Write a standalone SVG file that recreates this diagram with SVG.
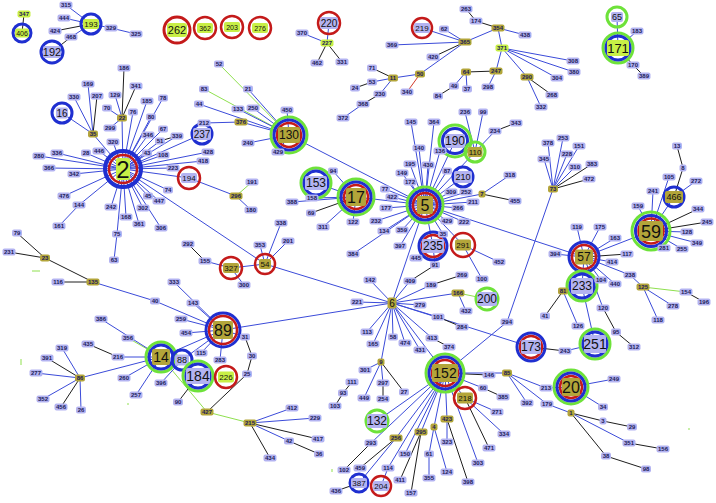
<svg xmlns="http://www.w3.org/2000/svg" xmlns:xlink="http://www.w3.org/1999/xlink" width="716" height="503" viewBox="0 0 716 503">
<style>
.e{stroke:#3b4bd9;stroke-width:1}
.k{stroke:#1e1e1e;stroke-width:1}
.g{stroke:#8fe04f;stroke-width:1}
.r{stroke:#d23a2a;stroke-width:1}
.L{fill:#b3b3f1}
.O{fill:#b3a53a}
.Y{fill:#c8ef46}
text{font-family:"Liberation Sans",Arial,sans-serif;text-anchor:middle}
.t{font-size:6px;font-weight:bold;fill:#1c1c58}
.B{fill:#111}
.cb{fill:none;stroke:#1f2fd0;stroke-width:3}
.cr{fill:none;stroke:#c41a1a;stroke-width:2.5}
.cg{fill:none;stroke:#6ee23a;stroke-width:3}
</style>
<defs>
<rect id="r3" x="-6.5" y="-3.5" width="13" height="7" rx="2"/>
<rect id="r2" x="-5" y="-3.5" width="10" height="7" rx="2"/>
<rect id="r1" x="-3.5" y="-3.5" width="7" height="7" rx="2"/>
</defs>
<rect width="716" height="503" fill="#ffffff"/>
<g id="edges">
<line class="k" x1="24" y1="14" x2="22" y2="33"/>
<line class="e" x1="66" y1="5" x2="91" y2="24"/>
<line class="e" x1="64" y1="18" x2="91" y2="24"/>
<line class="k" x1="55" y1="31" x2="91" y2="24"/>
<line class="k" x1="71" y1="37" x2="52" y2="52"/>
<line class="e" x1="71" y1="37" x2="91" y2="24"/>
<line class="e" x1="111" y1="28" x2="91" y2="24"/>
<line class="e" x1="111" y1="28" x2="136" y2="34"/>
<line class="e" x1="329" y1="23" x2="327" y2="43"/>
<line class="e" x1="302" y1="33" x2="327" y2="43"/>
<line class="k" x1="327" y1="43" x2="317" y2="63"/>
<line class="k" x1="327" y1="43" x2="342" y2="62"/>
<g class="e">
<line x1="123" y1="169" x2="49" y2="168"/>
<line x1="123" y1="169" x2="74" y2="174"/>
<line x1="123" y1="169" x2="64" y2="196"/>
<line x1="123" y1="169" x2="79" y2="205"/>
<line x1="123" y1="169" x2="111" y2="207"/>
<line x1="123" y1="169" x2="126" y2="217"/>
<line x1="123" y1="169" x2="117" y2="234"/>
<line x1="123" y1="169" x2="143" y2="208"/>
<line x1="123" y1="169" x2="139" y2="224"/>
<line x1="123" y1="169" x2="161" y2="228"/>
<line x1="123" y1="169" x2="148" y2="196"/>
<line x1="123" y1="169" x2="159" y2="201"/>
<line x1="123" y1="169" x2="168" y2="190"/>
<line x1="123" y1="169" x2="173" y2="168"/>
<line x1="123" y1="169" x2="163" y2="155"/>
<line x1="123" y1="169" x2="147" y2="153"/>
<line x1="123" y1="169" x2="160" y2="141"/>
<line x1="123" y1="169" x2="163" y2="129"/>
<line x1="123" y1="169" x2="151" y2="117"/>
<line x1="123" y1="169" x2="133" y2="112"/>
<line x1="123" y1="169" x2="147" y2="101"/>
<line x1="123" y1="169" x2="163" y2="98"/>
<line x1="123" y1="169" x2="177" y2="136"/>
<line x1="123" y1="169" x2="148" y2="135"/>
<line x1="123" y1="169" x2="113" y2="142"/>
<line x1="123" y1="169" x2="99" y2="151"/>
<line x1="123" y1="169" x2="86" y2="153"/>
<line x1="123" y1="169" x2="57" y2="153"/>
<line x1="123" y1="169" x2="39" y2="156"/>
<line x1="123" y1="169" x2="93" y2="134"/>
<line x1="123" y1="169" x2="122" y2="118"/>
<line x1="123" y1="169" x2="202" y2="134"/>
<line x1="123" y1="169" x2="208" y2="152"/>
<line x1="123" y1="169" x2="203" y2="161"/>
<line x1="123" y1="169" x2="189" y2="178"/>
<line x1="123" y1="169" x2="265" y2="264"/>
</g>
<line class="e" x1="79" y1="205" x2="59" y2="226"/>
<line class="e" x1="117" y1="234" x2="114" y2="260"/>
<line class="k" x1="160" y1="141" x2="177" y2="136"/>
<line class="e" x1="62" y1="113" x2="93" y2="134"/>
<line class="e" x1="93" y1="134" x2="74" y2="97"/>
<line class="e" x1="93" y1="134" x2="88" y2="84"/>
<line class="k" x1="93" y1="134" x2="97" y2="96"/>
<line class="k" x1="122" y1="118" x2="124" y2="68"/>
<line class="k" x1="122" y1="118" x2="136" y2="86"/>
<line class="e" x1="122" y1="118" x2="115" y2="95"/>
<line class="e" x1="122" y1="118" x2="107" y2="108"/>
<line class="e" x1="122" y1="118" x2="110" y2="128"/>
<line class="k" x1="45" y1="258" x2="17" y2="233"/>
<line class="k" x1="45" y1="258" x2="9" y2="252"/>
<line class="k" x1="45" y1="258" x2="93" y2="282"/>
<line class="k" x1="58" y1="282" x2="93" y2="282"/>
<line class="e" x1="93" y1="282" x2="155" y2="301"/>
<line class="e" x1="155" y1="301" x2="223" y2="330"/>
<line class="g" x1="219" y1="64" x2="289" y2="135"/>
<line class="g" x1="204" y1="89" x2="289" y2="135"/>
<line class="e" x1="248" y1="89" x2="289" y2="135"/>
<line class="e" x1="199" y1="104" x2="289" y2="135"/>
<line class="e" x1="238" y1="109" x2="289" y2="135"/>
<line class="e" x1="253" y1="108" x2="289" y2="135"/>
<line class="e" x1="287" y1="110" x2="289" y2="135"/>
<line class="e" x1="204" y1="123" x2="241" y2="122"/>
<line class="e" x1="241" y1="122" x2="289" y2="135"/>
<line class="e" x1="248" y1="143" x2="289" y2="135"/>
<line class="e" x1="278" y1="152" x2="289" y2="135"/>
<line class="e" x1="289" y1="135" x2="425" y2="205"/>
<line class="e" x1="189" y1="178" x2="236" y2="196"/>
<line class="g" x1="236" y1="196" x2="252" y2="182"/>
<line class="e" x1="236" y1="196" x2="251" y2="210"/>
<line class="k" x1="466" y1="9" x2="476" y2="21"/>
<line class="k" x1="476" y1="21" x2="498" y2="28"/>
<line class="e" x1="498" y1="28" x2="525" y2="35"/>
<line class="e" x1="498" y1="28" x2="465" y2="42"/>
<line class="e" x1="498" y1="28" x2="502" y2="48"/>
<line class="e" x1="422" y1="28" x2="465" y2="42"/>
<line class="e" x1="444" y1="29" x2="465" y2="42"/>
<line class="e" x1="392" y1="45" x2="465" y2="42"/>
<line class="k" x1="433" y1="57" x2="465" y2="42"/>
<line class="e" x1="420" y1="74" x2="465" y2="42"/>
<line class="e" x1="393" y1="78" x2="420" y2="74"/>
<line class="k" x1="372" y1="68" x2="393" y2="78"/>
<line class="e" x1="372" y1="82" x2="393" y2="78"/>
<line class="k" x1="355" y1="88" x2="372" y2="82"/>
<line class="e" x1="380" y1="94" x2="393" y2="78"/>
<line class="k" x1="363" y1="104" x2="380" y2="94"/>
<line class="e" x1="363" y1="104" x2="343" y2="118"/>
<line class="r" x1="407" y1="92" x2="420" y2="74"/>
<line class="k" x1="466" y1="72" x2="496" y2="71"/>
<line class="e" x1="454" y1="86" x2="466" y2="72"/>
<line class="k" x1="438" y1="96" x2="454" y2="86"/>
<line class="e" x1="467" y1="89" x2="466" y2="72"/>
<line class="e" x1="488" y1="87" x2="496" y2="71"/>
<line class="e" x1="496" y1="71" x2="502" y2="48"/>
<line class="e" x1="502" y1="48" x2="573" y2="61"/>
<line class="e" x1="502" y1="48" x2="574" y2="72"/>
<line class="e" x1="502" y1="48" x2="557" y2="78"/>
<line class="e" x1="502" y1="48" x2="527" y2="77"/>
<line class="k" x1="527" y1="77" x2="552" y2="95"/>
<line class="e" x1="527" y1="77" x2="541" y2="107"/>
<line class="e" x1="465" y1="112" x2="475" y2="152"/>
<line class="e" x1="483" y1="112" x2="475" y2="152"/>
<line class="k" x1="516" y1="123" x2="495" y2="131"/>
<line class="e" x1="495" y1="131" x2="475" y2="152"/>
<line class="e" x1="475" y1="152" x2="425" y2="205"/>
<line class="e" x1="455" y1="141" x2="425" y2="205"/>
<g class="e">
<line x1="425" y1="205" x2="411" y2="122"/>
<line x1="425" y1="205" x2="434" y2="122"/>
<line x1="425" y1="205" x2="419" y2="148"/>
<line x1="425" y1="205" x2="440" y2="151"/>
<line x1="425" y1="205" x2="410" y2="164"/>
<line x1="425" y1="205" x2="428" y2="165"/>
<line x1="425" y1="205" x2="402" y2="173"/>
<line x1="425" y1="205" x2="410" y2="182"/>
<line x1="425" y1="205" x2="447" y2="171"/>
<line x1="425" y1="205" x2="385" y2="189"/>
<line x1="425" y1="205" x2="392" y2="197"/>
<line x1="425" y1="205" x2="451" y2="192"/>
<line x1="425" y1="205" x2="466" y2="192"/>
<line x1="425" y1="205" x2="473" y2="202"/>
<line x1="425" y1="205" x2="386" y2="208"/>
<line x1="425" y1="205" x2="458" y2="208"/>
<line x1="425" y1="205" x2="376" y2="221"/>
<line x1="425" y1="205" x2="447" y2="221"/>
<line x1="425" y1="205" x2="464" y2="222"/>
<line x1="425" y1="205" x2="384" y2="231"/>
<line x1="425" y1="205" x2="402" y2="230"/>
<line x1="425" y1="205" x2="443" y2="234"/>
<line x1="425" y1="205" x2="400" y2="246"/>
<line x1="425" y1="205" x2="463" y2="177"/>
<line x1="425" y1="205" x2="482" y2="194"/>
<line x1="425" y1="205" x2="356" y2="197"/>
<line x1="425" y1="205" x2="463" y2="245"/>
<line x1="425" y1="205" x2="433" y2="246"/>
<line x1="425" y1="205" x2="392" y2="303"/>
<line x1="425" y1="205" x2="584" y2="257"/>
<line x1="425" y1="205" x2="353" y2="254"/>
</g>
<line class="e" x1="482" y1="194" x2="510" y2="175"/>
<line class="k" x1="482" y1="194" x2="515" y2="201"/>
<line class="e" x1="617" y1="17" x2="618" y2="48"/>
<line class="e" x1="637" y1="31" x2="618" y2="48"/>
<line class="k" x1="633" y1="65" x2="618" y2="48"/>
<line class="k" x1="644" y1="76" x2="633" y2="65"/>
<line class="e" x1="553" y1="189" x2="548" y2="143"/>
<line class="e" x1="553" y1="189" x2="544" y2="159"/>
<line class="e" x1="553" y1="189" x2="563" y2="138"/>
<line class="e" x1="553" y1="189" x2="567" y2="154"/>
<line class="e" x1="553" y1="189" x2="579" y2="146"/>
<line class="e" x1="553" y1="189" x2="575" y2="167"/>
<line class="k" x1="553" y1="189" x2="592" y2="164"/>
<line class="k" x1="553" y1="189" x2="589" y2="179"/>
<line class="e" x1="553" y1="189" x2="507" y2="322"/>
<line class="e" x1="651" y1="231" x2="638" y2="206"/>
<line class="e" x1="651" y1="231" x2="653" y2="191"/>
<line class="e" x1="651" y1="231" x2="669" y2="177"/>
<line class="e" x1="651" y1="231" x2="674" y2="197"/>
<line class="k" x1="651" y1="231" x2="698" y2="209"/>
<line class="k" x1="651" y1="231" x2="707" y2="222"/>
<line class="e" x1="651" y1="231" x2="687" y2="232"/>
<line class="e" x1="651" y1="231" x2="697" y2="243"/>
<line class="e" x1="651" y1="231" x2="664" y2="248"/>
<line class="e" x1="651" y1="231" x2="682" y2="249"/>
<line class="e" x1="651" y1="231" x2="584" y2="257"/>
<line class="e" x1="696" y1="181" x2="674" y2="197"/>
<line class="k" x1="683" y1="168" x2="674" y2="197"/>
<line class="k" x1="677" y1="146" x2="683" y2="168"/>
<line class="e" x1="584" y1="257" x2="577" y2="227"/>
<line class="e" x1="584" y1="257" x2="600" y2="227"/>
<line class="e" x1="584" y1="257" x2="615" y2="238"/>
<line class="k" x1="584" y1="257" x2="627" y2="254"/>
<line class="e" x1="584" y1="257" x2="612" y2="262"/>
<line class="e" x1="584" y1="257" x2="630" y2="275"/>
<line class="e" x1="584" y1="257" x2="601" y2="280"/>
<line class="e" x1="584" y1="257" x2="615" y2="284"/>
<line class="e" x1="584" y1="257" x2="555" y2="254"/>
<line class="e" x1="584" y1="257" x2="582" y2="286"/>
<line class="e" x1="584" y1="257" x2="603" y2="308"/>
<line class="e" x1="630" y1="275" x2="643" y2="287"/>
<line class="g" x1="643" y1="287" x2="686" y2="292"/>
<line class="k" x1="686" y1="292" x2="704" y2="302"/>
<line class="e" x1="643" y1="287" x2="673" y2="306"/>
<line class="e" x1="643" y1="287" x2="658" y2="320"/>
<line class="e" x1="563" y1="291" x2="582" y2="286"/>
<line class="k" x1="563" y1="291" x2="545" y2="316"/>
<line class="e" x1="563" y1="291" x2="578" y2="326"/>
<line class="e" x1="582" y1="286" x2="595" y2="344"/>
<line class="k" x1="603" y1="308" x2="616" y2="332"/>
<line class="k" x1="616" y1="332" x2="634" y2="347"/>
<line class="k" x1="531" y1="347" x2="565" y2="351"/>
<line class="e" x1="565" y1="351" x2="595" y2="344"/>
<line class="e" x1="463" y1="245" x2="499" y2="262"/>
<line class="e" x1="463" y1="245" x2="482" y2="279"/>
<line class="e" x1="433" y1="246" x2="435" y2="265"/>
<line class="e" x1="416" y1="258" x2="433" y2="246"/>
<line class="k" x1="435" y1="265" x2="410" y2="281"/>
<line class="e" x1="410" y1="281" x2="392" y2="303"/>
<line class="k" x1="431" y1="285" x2="462" y2="275"/>
<line class="e" x1="431" y1="285" x2="392" y2="303"/>
<line class="e" x1="458" y1="293" x2="392" y2="303"/>
<line class="g" x1="458" y1="293" x2="487" y2="299"/>
<line class="e" x1="458" y1="293" x2="466" y2="311"/>
<g class="e">
<line x1="392" y1="303" x2="420" y2="305"/>
<line x1="392" y1="303" x2="438" y2="317"/>
<line x1="392" y1="303" x2="357" y2="302"/>
<line x1="392" y1="303" x2="370" y2="280"/>
<line x1="392" y1="303" x2="367" y2="332"/>
<line x1="392" y1="303" x2="373" y2="344"/>
<line x1="392" y1="303" x2="393" y2="337"/>
<line x1="392" y1="303" x2="405" y2="343"/>
<line x1="392" y1="303" x2="420" y2="350"/>
<line x1="392" y1="303" x2="432" y2="338"/>
<line x1="392" y1="303" x2="223" y2="330"/>
<line x1="392" y1="303" x2="265" y2="264"/>
<line x1="392" y1="303" x2="381" y2="362"/>
<line x1="392" y1="303" x2="445" y2="373"/>
<line x1="392" y1="303" x2="531" y2="347"/>
</g>
<line class="k" x1="438" y1="317" x2="462" y2="327"/>
<line class="k" x1="432" y1="338" x2="449" y2="347"/>
<line class="e" x1="356" y1="197" x2="316" y2="183"/>
<line class="e" x1="356" y1="197" x2="333" y2="171"/>
<line class="e" x1="356" y1="197" x2="292" y2="202"/>
<line class="e" x1="356" y1="197" x2="312" y2="198"/>
<line class="k" x1="356" y1="197" x2="311" y2="213"/>
<line class="e" x1="356" y1="197" x2="323" y2="227"/>
<line class="e" x1="356" y1="197" x2="353" y2="222"/>
<line class="e" x1="281" y1="223" x2="265" y2="264"/>
<line class="e" x1="288" y1="241" x2="265" y2="264"/>
<line class="e" x1="260" y1="245" x2="265" y2="264"/>
<line class="k" x1="188" y1="244" x2="205" y2="261"/>
<line class="e" x1="205" y1="261" x2="231" y2="268"/>
<line class="e" x1="231" y1="268" x2="265" y2="264"/>
<line class="e" x1="244" y1="285" x2="231" y2="268"/>
<line class="e" x1="223" y1="330" x2="193" y2="303"/>
<line class="e" x1="223" y1="330" x2="181" y2="319"/>
<line class="e" x1="223" y1="330" x2="186" y2="333"/>
<line class="e" x1="223" y1="330" x2="174" y2="282"/>
<line class="e" x1="223" y1="330" x2="245" y2="337"/>
<line class="e" x1="223" y1="330" x2="201" y2="353"/>
<line class="e" x1="223" y1="330" x2="220" y2="360"/>
<line class="e" x1="223" y1="330" x2="182" y2="360"/>
<line class="e" x1="223" y1="330" x2="161" y2="357"/>
<line class="k" x1="245" y1="337" x2="252" y2="356"/>
<line class="k" x1="252" y1="356" x2="247" y2="374"/>
<line class="k" x1="247" y1="374" x2="207" y2="412"/>
<line class="g" x1="207" y1="412" x2="161" y2="357"/>
<line class="g" x1="207" y1="412" x2="250" y2="423"/>
<line class="e" x1="250" y1="423" x2="292" y2="408"/>
<line class="e" x1="250" y1="423" x2="315" y2="418"/>
<line class="k" x1="250" y1="423" x2="318" y2="439"/>
<line class="e" x1="250" y1="423" x2="289" y2="441"/>
<line class="k" x1="289" y1="441" x2="319" y2="454"/>
<line class="k" x1="250" y1="423" x2="270" y2="458"/>
<line class="e" x1="80" y1="378" x2="62" y2="348"/>
<line class="k" x1="80" y1="378" x2="47" y2="358"/>
<line class="e" x1="80" y1="378" x2="36" y2="373"/>
<line class="e" x1="80" y1="378" x2="43" y2="399"/>
<line class="k" x1="80" y1="378" x2="61" y2="407"/>
<line class="e" x1="80" y1="378" x2="81" y2="410"/>
<line class="e" x1="80" y1="378" x2="161" y2="357"/>
<line class="k" x1="88" y1="344" x2="118" y2="357"/>
<line class="e" x1="118" y1="357" x2="161" y2="357"/>
<line class="e" x1="124" y1="378" x2="161" y2="357"/>
<line class="e" x1="136" y1="395" x2="161" y2="357"/>
<line class="g" x1="128" y1="338" x2="161" y2="357"/>
<line class="e" x1="101" y1="319" x2="161" y2="357"/>
<line class="e" x1="161" y1="383" x2="182" y2="360"/>
<line class="k" x1="178" y1="402" x2="198" y2="376"/>
<line class="e" x1="381" y1="362" x2="365" y2="370"/>
<line class="e" x1="381" y1="362" x2="383" y2="383"/>
<line class="k" x1="381" y1="362" x2="404" y2="392"/>
<line class="e" x1="381" y1="362" x2="364" y2="398"/>
<line class="k" x1="383" y1="383" x2="383" y2="399"/>
<line class="k" x1="352" y1="382" x2="343" y2="393"/>
<line class="k" x1="343" y1="393" x2="335" y2="406"/>
<line class="k" x1="445" y1="373" x2="489" y2="375"/>
<g class="e">
<line x1="445" y1="373" x2="483" y2="388"/>
<line x1="445" y1="373" x2="465" y2="398"/>
<line x1="445" y1="373" x2="377" y2="421"/>
<line x1="445" y1="373" x2="371" y2="443"/>
<line x1="445" y1="373" x2="396" y2="438"/>
<line x1="445" y1="373" x2="405" y2="454"/>
<line x1="445" y1="373" x2="421" y2="432"/>
<line x1="445" y1="373" x2="434" y2="427"/>
<line x1="445" y1="373" x2="447" y2="419"/>
<line x1="445" y1="373" x2="478" y2="463"/>
<line x1="445" y1="373" x2="388" y2="468"/>
<line x1="445" y1="373" x2="507" y2="373"/>
<line x1="445" y1="373" x2="507" y2="322"/>
</g>
<line class="k" x1="483" y1="388" x2="503" y2="397"/>
<line class="e" x1="465" y1="398" x2="497" y2="412"/>
<line class="e" x1="465" y1="398" x2="504" y2="434"/>
<line class="k" x1="465" y1="398" x2="489" y2="448"/>
<line class="e" x1="434" y1="427" x2="429" y2="454"/>
<line class="e" x1="434" y1="427" x2="447" y2="472"/>
<line class="e" x1="429" y1="454" x2="429" y2="478"/>
<line class="k" x1="447" y1="419" x2="468" y2="482"/>
<line class="e" x1="447" y1="419" x2="447" y2="442"/>
<line class="k" x1="421" y1="432" x2="400" y2="480"/>
<line class="k" x1="421" y1="432" x2="411" y2="493"/>
<line class="k" x1="396" y1="438" x2="360" y2="468"/>
<line class="e" x1="396" y1="438" x2="359" y2="483"/>
<line class="e" x1="388" y1="468" x2="381" y2="486"/>
<line class="k" x1="371" y1="443" x2="344" y2="470"/>
<line class="k" x1="336" y1="491" x2="359" y2="483"/>
<line class="e" x1="507" y1="373" x2="527" y2="403"/>
<line class="e" x1="507" y1="373" x2="546" y2="388"/>
<line class="e" x1="507" y1="373" x2="547" y2="404"/>
<line class="e" x1="571" y1="387" x2="614" y2="379"/>
<line class="e" x1="571" y1="387" x2="603" y2="407"/>
<line class="e" x1="571" y1="387" x2="546" y2="388"/>
<line class="e" x1="547" y1="404" x2="571" y2="413"/>
<line class="k" x1="571" y1="413" x2="603" y2="421"/>
<line class="k" x1="603" y1="421" x2="632" y2="427"/>
<line class="e" x1="571" y1="413" x2="629" y2="443"/>
<line class="k" x1="629" y1="443" x2="663" y2="449"/>
<line class="k" x1="571" y1="413" x2="606" y2="456"/>
<line class="k" x1="606" y1="456" x2="646" y2="469"/>
<line class="g" x1="32" y1="271" x2="40" y2="271"/>
<line class="g" x1="21" y1="359" x2="21" y2="365"/>
<line class="g" x1="127" y1="404" x2="129" y2="404"/>
<line class="g" x1="688" y1="429" x2="690" y2="429"/>
<line class="g" x1="332" y1="469" x2="332" y2="472"/>
</g>
<g id="nodes">
<g id="n406" class="Y" transform="translate(22,33)"><circle class="cb" r="9"/><rect x="-7" y="-4.5" width="14" height="9" rx="2"/><text class="B" font-size="7" y="2.5">406</text></g>
<g id="n193" class="Y" transform="translate(91,24)"><circle class="cb" r="10"/><rect x="-8" y="-5" width="16" height="10" rx="2"/><text class="B" font-size="8" y="2.9">193</text></g>
<g id="n192" class="L" transform="translate(52,52)"><circle class="cb" r="11"/><rect x="-9" y="-6" width="18" height="12" rx="2"/><text class="B" font-size="11" y="4">192</text></g>
<g id="n16" class="L" transform="translate(62,113)"><circle class="cb" r="10"/><rect x="-6" y="-5.5" width="12" height="11" rx="2"/><text class="B" font-size="10" y="3.6">16</text></g>
<g id="n2" class="Y" transform="translate(123,169)"><circle class="cb" r="18" style="stroke-width:4"/><circle class="cr" r="14"/><rect x="-7" y="-11" width="14" height="22" rx="2"/><text class="B" font-size="24" y="8.6">2</text></g>
<g id="n262" class="Y" transform="translate(177,30)"><circle class="cr" r="13" style="stroke-width:3"/><rect x="-10" y="-7" width="20" height="14" rx="3"/><text class="B" font-size="11" y="4">262</text></g>
<g id="n362" class="Y" transform="translate(205,28)"><circle class="cr" r="11"/><rect x="-8" y="-5" width="16" height="10" rx="2"/><text class="B" font-size="7" y="2.5">362</text></g>
<g id="n203" class="Y" transform="translate(232,27)"><circle class="cr" r="11"/><rect x="-8" y="-5" width="16" height="10" rx="2"/><text class="B" font-size="7" y="2.5">203</text></g>
<g id="n276" class="Y" transform="translate(260,28)"><circle class="cr" r="11"/><rect x="-8" y="-5" width="16" height="10" rx="2"/><text class="B" font-size="7" y="2.5">276</text></g>
<g id="n220" class="L" transform="translate(329,23)"><circle class="cr" r="11"/><rect x="-9" y="-6" width="18" height="12" rx="2"/><text class="B" font-size="10" y="3.6">220</text></g>
<g id="n237" class="L" transform="translate(202,134)"><circle class="cb" r="10"/><rect x="-9" y="-6" width="18" height="12" rx="2"/><text class="B" font-size="10" y="3.6">237</text></g>
<g id="n130" class="O" transform="translate(289,135)"><circle class="cg" r="18"/><circle class="cb" r="15"/><circle class="cr" r="12"/><rect x="-11" y="-8" width="22" height="16" rx="2"/><text class="B" font-size="12" y="4.3">130</text></g>
<g id="n194" class="L" transform="translate(189,178)"><circle class="cr" r="11"/><rect x="-8" y="-5" width="16" height="10" rx="2"/><text class="B" font-size="8" y="2.9">194</text></g>
<g id="n219" class="L" transform="translate(422,28)"><circle class="cr" r="10"/><rect x="-8" y="-5" width="16" height="10" rx="2"/><text class="B" font-size="8" y="2.9">219</text></g>
<g id="n190" class="L" transform="translate(455,141)"><circle class="cg" r="16"/><circle class="cb" r="12.5"/><rect x="-10" y="-7" width="20" height="14" rx="2"/><text class="B" font-size="12" y="4.3">190</text></g>
<g id="n110" class="O" transform="translate(475,152)"><circle class="cg" r="10"/><rect x="-7.5" y="-5" width="15" height="10" rx="2"/><text class="B" font-size="8" y="2.9">110</text></g>
<g id="n65" class="L" transform="translate(617,17)"><circle class="cg" r="10"/><rect x="-6" y="-5" width="12" height="10" rx="2"/><text class="B" font-size="9" y="3.2">65</text></g>
<g id="n171" class="Y" transform="translate(618,48)"><circle class="cg" r="15"/><circle class="cb" r="12"/><rect x="-11" y="-8" width="22" height="16" rx="2"/><text class="B" font-size="13" y="4.7">171</text></g>
<g id="n466" class="O" transform="translate(674,197)"><circle class="cb" r="10"/><rect x="-9" y="-6" width="18" height="12" rx="2"/><text class="B" font-size="9" y="3.2">466</text></g>
<g id="n59" class="O" transform="translate(651,231)"><circle class="cg" r="19"/><circle class="cb" r="15.5"/><circle class="cr" r="12.5"/><rect x="-12" y="-10" width="24" height="20" rx="3"/><text class="B" font-size="18" y="6.5">59</text></g>
<g id="n57" class="O" transform="translate(584,257)"><circle class="cb" r="15"/><circle class="cr" r="12"/><rect x="-9" y="-7.5" width="18" height="15" rx="2"/><text class="B" font-size="12" y="4.3">57</text></g>
<g id="n233" class="L" transform="translate(582,286)"><circle class="cg" r="15"/><circle class="cb" r="12"/><rect x="-11" y="-8" width="22" height="16" rx="2"/><text class="B" font-size="12" y="4.3">233</text></g>
<g id="n251" class="L" transform="translate(595,344)"><circle class="cg" r="15"/><circle class="cb" r="12"/><rect x="-11" y="-9" width="22" height="18" rx="2"/><text class="B" font-size="14" y="5">251</text></g>
<g id="n210" class="L" transform="translate(463,177)"><circle class="cb" r="10"/><rect x="-9" y="-6" width="18" height="12" rx="2"/><text class="B" font-size="9" y="3.2">210</text></g>
<g id="n5" class="O" transform="translate(425,205)"><circle class="cg" r="18"/><circle class="cb" r="15"/><circle class="cr" r="12"/><rect x="-8" y="-9" width="16" height="18" rx="2"/><text class="B" font-size="16" y="5.8">5</text></g>
<g id="n17" class="O" transform="translate(356,197)"><circle class="cg" r="18"/><circle class="cb" r="15"/><circle class="cr" r="12"/><rect x="-10" y="-9" width="20" height="18" rx="2"/><text class="B" font-size="16" y="5.8">17</text></g>
<g id="n153" class="L" transform="translate(316,183)"><circle class="cg" r="15"/><circle class="cb" r="12"/><rect x="-11" y="-7" width="22" height="14" rx="2"/><text class="B" font-size="12" y="4.3">153</text></g>
<g id="n235" class="L" transform="translate(433,246)"><circle class="cb" r="14"/><circle class="cr" r="11"/><rect x="-11" y="-7" width="22" height="14" rx="2"/><text class="B" font-size="12" y="4.3">235</text></g>
<g id="n291" class="O" transform="translate(463,245)"><circle class="cr" r="12"/><rect x="-8" y="-5.5" width="16" height="11" rx="2"/><text class="B" font-size="8" y="2.9">291</text></g>
<g id="n200" class="L" transform="translate(487,299)"><circle class="cg" r="11"/><rect x="-10" y="-7" width="20" height="14" rx="2"/><text class="B" font-size="12" y="4.3">200</text></g>
<g id="n327" class="O" transform="translate(231,268)"><circle class="cr" r="11"/><rect x="-8" y="-5" width="16" height="10" rx="2"/><text class="B" font-size="8" y="2.9">327</text></g>
<g id="n54" class="O" transform="translate(265,264)"><circle class="cr" r="10"/><rect x="-6" y="-5" width="12" height="10" rx="2"/><text class="B" font-size="8" y="2.9">54</text></g>
<g id="n89" class="O" transform="translate(223,330)"><circle class="cb" r="17"/><circle class="cr" r="14"/><rect x="-10" y="-9" width="20" height="18" rx="2"/><text class="B" font-size="16" y="5.8">89</text></g>
<g id="n14" class="O" transform="translate(161,357)"><circle class="cg" r="15"/><circle class="cb" r="12"/><rect x="-9" y="-8" width="18" height="16" rx="2"/><text class="B" font-size="14" y="5">14</text></g>
<g id="n88" class="L" transform="translate(182,360)"><circle class="cb" r="10"/><rect x="-7" y="-5.5" width="14" height="11" rx="2"/><text class="B" font-size="9" y="3.2">88</text></g>
<g id="n184" class="L" transform="translate(198,376)"><circle class="cg" r="15"/><circle class="cb" r="12"/><rect x="-12" y="-8" width="24" height="16" rx="2"/><text class="B" font-size="14" y="5">184</text></g>
<g id="n226" class="Y" transform="translate(226,377)"><circle class="cr" r="11"/><rect x="-8" y="-5.5" width="16" height="11" rx="2"/><text class="B" font-size="8" y="2.9">226</text></g>
<g id="n152" class="O" transform="translate(445,373)"><circle class="cg" r="19"/><circle class="cb" r="16"/><circle class="cr" r="13"/><rect x="-13" y="-9" width="26" height="18" rx="2"/><text class="B" font-size="14" y="5">152</text></g>
<g id="n218" class="O" transform="translate(465,398)"><circle class="cr" r="11"/><rect x="-8" y="-5.5" width="16" height="11" rx="2"/><text class="B" font-size="8" y="2.9">218</text></g>
<g id="n132" class="L" transform="translate(377,421)"><circle class="cg" r="11"/><rect x="-10" y="-7" width="20" height="14" rx="2"/><text class="B" font-size="12" y="4.3">132</text></g>
<g id="n387" class="L" transform="translate(359,483)"><circle class="cb" r="9"/><rect x="-8" y="-5" width="16" height="10" rx="2"/><text class="B" font-size="8" y="2.9">387</text></g>
<g id="n204" class="L" transform="translate(381,486)"><circle class="cr" r="10"/><rect x="-8" y="-5" width="16" height="10" rx="2"/><text class="B" font-size="8" y="2.9">204</text></g>
<g id="n173" class="L" transform="translate(531,347)"><circle class="cb" r="14"/><circle class="cr" r="11"/><rect x="-10" y="-7" width="20" height="14" rx="2"/><text class="B" font-size="12" y="4.3">173</text></g>
<g id="n20" class="O" transform="translate(571,387)"><circle class="cg" r="17"/><circle class="cb" r="14"/><circle class="cr" r="11"/><rect x="-9" y="-9" width="18" height="18" rx="2"/><text class="B" font-size="16" y="5.8">20</text></g>

<g id="n347" class="Y" transform="translate(24,14)"><use href="#r3"/><text class="t" y="2.1">347</text></g>
<g id="n227" class="Y" transform="translate(327,43)"><use href="#r3"/><text class="t" y="2.1">227</text></g>
<g id="n371" class="Y" transform="translate(502,48)"><use href="#r3"/><text class="t" y="2.1">371</text></g>
<g id="n376" class="O" transform="translate(241,122)"><use href="#r3"/><text class="t" y="2.1">376</text></g>
<g id="n22" class="O" transform="translate(122,118)"><use href="#r2"/><text class="t" y="2.1">22</text></g>
<g id="n35" class="O" transform="translate(93,134)"><use href="#r2"/><text class="t" y="2.1">35</text></g>
<g id="n23" class="O" transform="translate(45,258)"><use href="#r2"/><text class="t" y="2.1">23</text></g>
<g id="n135" class="O" transform="translate(93,282)"><use href="#r3"/><text class="t" y="2.1">135</text></g>
<g id="n354" class="O" transform="translate(498,28)"><use href="#r3"/><text class="t" y="2.1">354</text></g>
<g id="n365" class="O" transform="translate(465,42)"><use href="#r3"/><text class="t" y="2.1">365</text></g>
<g id="n11" class="O" transform="translate(393,78)"><use href="#r2"/><text class="t" y="2.1">11</text></g>
<g id="n50" class="O" transform="translate(420,74)"><use href="#r2"/><text class="t" y="2.1">50</text></g>
<g id="n64" class="O" transform="translate(466,72)"><use href="#r2"/><text class="t" y="2.1">64</text></g>
<g id="n247" class="O" transform="translate(496,71)"><use href="#r3"/><text class="t" y="2.1">247</text></g>
<g id="n290" class="O" transform="translate(527,77)"><use href="#r3"/><text class="t" y="2.1">290</text></g>
<g id="n73" class="O" transform="translate(553,189)"><use href="#r2"/><text class="t" y="2.1">73</text></g>
<g id="n81" class="O" transform="translate(563,291)"><use href="#r2"/><text class="t" y="2.1">81</text></g>
<g id="n125" class="O" transform="translate(643,287)"><use href="#r3"/><text class="t" y="2.1">125</text></g>
<g id="n7" class="O" transform="translate(482,194)"><use href="#r1"/><text class="t" y="2.1">7</text></g>
<g id="n166" class="O" transform="translate(458,293)"><use href="#r3"/><text class="t" y="2.1">166</text></g>
<g id="n6" class="O" transform="translate(392,303)"><rect x="-4.5" y="-5.5" width="9" height="11" rx="2"/><text class="B" font-size="10" y="3.6">6</text></g>
<g id="n296" class="O" transform="translate(236,196)"><use href="#r3"/><text class="t" y="2.1">296</text></g>
<g id="n86" class="O" transform="translate(80,378)"><use href="#r2"/><text class="t" y="2.1">86</text></g>
<g id="n427" class="O" transform="translate(207,412)"><use href="#r3"/><text class="t" y="2.1">427</text></g>
<g id="n215" class="O" transform="translate(250,423)"><use href="#r3"/><text class="t" y="2.1">215</text></g>
<g id="n9" class="O" transform="translate(381,362)"><use href="#r1"/><text class="t" y="2.1">9</text></g>
<g id="n85" class="O" transform="translate(507,373)"><use href="#r2"/><text class="t" y="2.1">85</text></g>
<g id="n423" class="O" transform="translate(447,419)"><use href="#r3"/><text class="t" y="2.1">423</text></g>
<g id="n256" class="O" transform="translate(396,438)"><use href="#r3"/><text class="t" y="2.1">256</text></g>
<g id="n295" class="O" transform="translate(421,432)"><use href="#r3"/><text class="t" y="2.1">295</text></g>
<g id="n4" class="O" transform="translate(434,427)"><use href="#r1"/><text class="t" y="2.1">4</text></g>
<g id="n1" class="O" transform="translate(571,413)"><use href="#r1"/><text class="t" y="2.1">1</text></g>

<g id="n315" class="L" transform="translate(66,5)"><use href="#r3"/><text class="t" y="2.1">315</text></g>
<g id="n444" class="L" transform="translate(64,18)"><use href="#r3"/><text class="t" y="2.1">444</text></g>
<g id="n424" class="L" transform="translate(55,31)"><use href="#r3"/><text class="t" y="2.1">424</text></g>
<g id="n468" class="L" transform="translate(71,37)"><use href="#r3"/><text class="t" y="2.1">468</text></g>
<g id="n329" class="L" transform="translate(111,28)"><use href="#r3"/><text class="t" y="2.1">329</text></g>
<g id="n325" class="L" transform="translate(136,34)"><use href="#r3"/><text class="t" y="2.1">325</text></g>
<g id="n370" class="L" transform="translate(302,33)"><use href="#r3"/><text class="t" y="2.1">370</text></g>
<g id="n462" class="L" transform="translate(317,63)"><use href="#r3"/><text class="t" y="2.1">462</text></g>
<g id="n331" class="L" transform="translate(342,62)"><use href="#r3"/><text class="t" y="2.1">331</text></g>
<g id="n52" class="L" transform="translate(219,64)"><use href="#r2"/><text class="t" y="2.1">52</text></g>
<g id="n83" class="L" transform="translate(204,89)"><use href="#r2"/><text class="t" y="2.1">83</text></g>
<g id="n21" class="L" transform="translate(248,89)"><use href="#r2"/><text class="t" y="2.1">21</text></g>
<g id="n44" class="L" transform="translate(199,104)"><use href="#r2"/><text class="t" y="2.1">44</text></g>
<g id="n133" class="L" transform="translate(238,109)"><use href="#r3"/><text class="t" y="2.1">133</text></g>
<g id="n250" class="L" transform="translate(253,108)"><use href="#r3"/><text class="t" y="2.1">250</text></g>
<g id="n450" class="L" transform="translate(287,110)"><use href="#r3"/><text class="t" y="2.1">450</text></g>
<g id="n212" class="L" transform="translate(204,123)"><use href="#r3"/><text class="t" y="2.1">212</text></g>
<g id="n240" class="L" transform="translate(248,143)"><use href="#r3"/><text class="t" y="2.1">240</text></g>
<g id="n425" class="L" transform="translate(278,152)"><use href="#r3"/><text class="t" y="2.1">429</text></g>
<g id="n428" class="L" transform="translate(208,152)"><use href="#r3"/><text class="t" y="2.1">428</text></g>
<g id="n418" class="L" transform="translate(203,161)"><use href="#r3"/><text class="t" y="2.1">418</text></g>
<g id="n339" class="L" transform="translate(177,136)"><use href="#r3"/><text class="t" y="2.1">339</text></g>
<g id="n186" class="L" transform="translate(124,68)"><use href="#r3"/><text class="t" y="2.1">186</text></g>
<g id="n169" class="L" transform="translate(88,84)"><use href="#r3"/><text class="t" y="2.1">169</text></g>
<g id="n341" class="L" transform="translate(136,86)"><use href="#r3"/><text class="t" y="2.1">341</text></g>
<g id="n330" class="L" transform="translate(74,97)"><use href="#r3"/><text class="t" y="2.1">330</text></g>
<g id="n207" class="L" transform="translate(97,96)"><use href="#r3"/><text class="t" y="2.1">207</text></g>
<g id="n129" class="L" transform="translate(115,95)"><use href="#r3"/><text class="t" y="2.1">129</text></g>
<g id="n185" class="L" transform="translate(147,101)"><use href="#r3"/><text class="t" y="2.1">185</text></g>
<g id="n78" class="L" transform="translate(163,98)"><use href="#r2"/><text class="t" y="2.1">78</text></g>
<g id="n70" class="L" transform="translate(107,108)"><use href="#r2"/><text class="t" y="2.1">70</text></g>
<g id="n76" class="L" transform="translate(133,112)"><use href="#r2"/><text class="t" y="2.1">76</text></g>
<g id="n80" class="L" transform="translate(151,117)"><use href="#r2"/><text class="t" y="2.1">80</text></g>
<g id="n299" class="L" transform="translate(110,128)"><use href="#r3"/><text class="t" y="2.1">299</text></g>
<g id="n67" class="L" transform="translate(163,129)"><use href="#r2"/><text class="t" y="2.1">67</text></g>
<g id="n346" class="L" transform="translate(148,135)"><use href="#r3"/><text class="t" y="2.1">346</text></g>
<g id="n51" class="L" transform="translate(160,141)"><use href="#r2"/><text class="t" y="2.1">51</text></g>
<g id="n320" class="L" transform="translate(113,142)"><use href="#r3"/><text class="t" y="2.1">320</text></g>
<g id="n43" class="L" transform="translate(147,153)"><use href="#r2"/><text class="t" y="2.1">43</text></g>
<g id="n28" class="L" transform="translate(86,153)"><use href="#r2"/><text class="t" y="2.1">28</text></g>
<g id="n446" class="L" transform="translate(99,151)"><use href="#r3"/><text class="t" y="2.1">446</text></g>
<g id="n280" class="L" transform="translate(39,156)"><use href="#r3"/><text class="t" y="2.1">280</text></g>
<g id="n336" class="L" transform="translate(57,153)"><use href="#r3"/><text class="t" y="2.1">336</text></g>
<g id="n108" class="L" transform="translate(163,155)"><use href="#r3"/><text class="t" y="2.1">108</text></g>
<g id="n366" class="L" transform="translate(49,168)"><use href="#r3"/><text class="t" y="2.1">366</text></g>
<g id="n342" class="L" transform="translate(74,174)"><use href="#r3"/><text class="t" y="2.1">342</text></g>
<g id="n223" class="L" transform="translate(173,168)"><use href="#r3"/><text class="t" y="2.1">223</text></g>
<g id="n476" class="L" transform="translate(64,196)"><use href="#r3"/><text class="t" y="2.1">476</text></g>
<g id="n144" class="L" transform="translate(79,205)"><use href="#r3"/><text class="t" y="2.1">144</text></g>
<g id="n74" class="L" transform="translate(168,190)"><use href="#r2"/><text class="t" y="2.1">74</text></g>
<g id="n45" class="L" transform="translate(148,196)"><use href="#r2"/><text class="t" y="2.1">45</text></g>
<g id="n447" class="L" transform="translate(159,201)"><use href="#r3"/><text class="t" y="2.1">447</text></g>
<g id="n242" class="L" transform="translate(111,207)"><use href="#r3"/><text class="t" y="2.1">242</text></g>
<g id="n302" class="L" transform="translate(143,208)"><use href="#r3"/><text class="t" y="2.1">302</text></g>
<g id="n168" class="L" transform="translate(126,217)"><use href="#r3"/><text class="t" y="2.1">168</text></g>
<g id="n361" class="L" transform="translate(139,224)"><use href="#r3"/><text class="t" y="2.1">361</text></g>
<g id="n306" class="L" transform="translate(161,228)"><use href="#r3"/><text class="t" y="2.1">306</text></g>
<g id="n161" class="L" transform="translate(59,226)"><use href="#r3"/><text class="t" y="2.1">161</text></g>
<g id="n75" class="L" transform="translate(117,234)"><use href="#r2"/><text class="t" y="2.1">75</text></g>
<g id="n63" class="L" transform="translate(114,260)"><use href="#r2"/><text class="t" y="2.1">63</text></g>
<g id="n79" class="L" transform="translate(17,233)"><use href="#r2"/><text class="t" y="2.1">79</text></g>
<g id="n231" class="L" transform="translate(9,252)"><use href="#r3"/><text class="t" y="2.1">231</text></g>
<g id="n116" class="L" transform="translate(58,282)"><use href="#r3"/><text class="t" y="2.1">116</text></g>
<g id="n40" class="L" transform="translate(155,301)"><use href="#r2"/><text class="t" y="2.1">40</text></g>
<g id="n333" class="L" transform="translate(174,282)"><use href="#r3"/><text class="t" y="2.1">333</text></g>
<g id="n386" class="L" transform="translate(101,319)"><use href="#r3"/><text class="t" y="2.1">386</text></g>
<g id="n259" class="L" transform="translate(181,319)"><use href="#r3"/><text class="t" y="2.1">259</text></g>
<g id="n263" class="L" transform="translate(466,9)"><use href="#r3"/><text class="t" y="2.1">263</text></g>
<g id="n174" class="L" transform="translate(476,21)"><use href="#r3"/><text class="t" y="2.1">174</text></g>
<g id="n438" class="L" transform="translate(525,35)"><use href="#r3"/><text class="t" y="2.1">438</text></g>
<g id="n62" class="L" transform="translate(444,29)"><use href="#r2"/><text class="t" y="2.1">62</text></g>
<g id="n369" class="L" transform="translate(392,45)"><use href="#r3"/><text class="t" y="2.1">369</text></g>
<g id="n420" class="L" transform="translate(433,57)"><use href="#r3"/><text class="t" y="2.1">420</text></g>
<g id="n71" class="L" transform="translate(372,68)"><use href="#r2"/><text class="t" y="2.1">71</text></g>
<g id="n53" class="L" transform="translate(372,82)"><use href="#r2"/><text class="t" y="2.1">53</text></g>
<g id="n24" class="L" transform="translate(355,88)"><use href="#r2"/><text class="t" y="2.1">24</text></g>
<g id="n340" class="L" transform="translate(407,92)"><use href="#r3"/><text class="t" y="2.1">340</text></g>
<g id="n49" class="L" transform="translate(454,86)"><use href="#r2"/><text class="t" y="2.1">49</text></g>
<g id="n37" class="L" transform="translate(467,89)"><use href="#r2"/><text class="t" y="2.1">37</text></g>
<g id="n84" class="L" transform="translate(438,96)"><use href="#r2"/><text class="t" y="2.1">84</text></g>
<g id="n298" class="L" transform="translate(488,87)"><use href="#r3"/><text class="t" y="2.1">298</text></g>
<g id="n230" class="L" transform="translate(380,94)"><use href="#r3"/><text class="t" y="2.1">230</text></g>
<g id="n368" class="L" transform="translate(363,104)"><use href="#r3"/><text class="t" y="2.1">368</text></g>
<g id="n372" class="L" transform="translate(343,118)"><use href="#r3"/><text class="t" y="2.1">372</text></g>
<g id="n236" class="L" transform="translate(465,112)"><use href="#r3"/><text class="t" y="2.1">236</text></g>
<g id="n99" class="L" transform="translate(483,112)"><use href="#r2"/><text class="t" y="2.1">99</text></g>
<g id="n343" class="L" transform="translate(516,123)"><use href="#r3"/><text class="t" y="2.1">343</text></g>
<g id="n145" class="L" transform="translate(411,122)"><use href="#r3"/><text class="t" y="2.1">145</text></g>
<g id="n364" class="L" transform="translate(434,122)"><use href="#r3"/><text class="t" y="2.1">364</text></g>
<g id="n234" class="L" transform="translate(495,131)"><use href="#r3"/><text class="t" y="2.1">234</text></g>
<g id="n140" class="L" transform="translate(419,148)"><use href="#r3"/><text class="t" y="2.1">140</text></g>
<g id="n136" class="L" transform="translate(440,151)"><use href="#r3"/><text class="t" y="2.1">136</text></g>
<g id="n195" class="L" transform="translate(410,164)"><use href="#r3"/><text class="t" y="2.1">195</text></g>
<g id="n430" class="L" transform="translate(428,165)"><use href="#r3"/><text class="t" y="2.1">430</text></g>
<g id="n183" class="L" transform="translate(637,31)"><use href="#r3"/><text class="t" y="2.1">183</text></g>
<g id="n170" class="L" transform="translate(633,65)"><use href="#r3"/><text class="t" y="2.1">170</text></g>
<g id="n389" class="L" transform="translate(644,76)"><use href="#r3"/><text class="t" y="2.1">389</text></g>
<g id="n308" class="L" transform="translate(573,61)"><use href="#r3"/><text class="t" y="2.1">308</text></g>
<g id="n380" class="L" transform="translate(574,72)"><use href="#r3"/><text class="t" y="2.1">380</text></g>
<g id="n304" class="L" transform="translate(557,78)"><use href="#r3"/><text class="t" y="2.1">304</text></g>
<g id="n268" class="L" transform="translate(552,95)"><use href="#r3"/><text class="t" y="2.1">268</text></g>
<g id="n332" class="L" transform="translate(541,107)"><use href="#r3"/><text class="t" y="2.1">332</text></g>
<g id="n378" class="L" transform="translate(548,143)"><use href="#r3"/><text class="t" y="2.1">378</text></g>
<g id="n253" class="L" transform="translate(563,138)"><use href="#r3"/><text class="t" y="2.1">253</text></g>
<g id="n151" class="L" transform="translate(579,146)"><use href="#r3"/><text class="t" y="2.1">151</text></g>
<g id="n345" class="L" transform="translate(544,159)"><use href="#r3"/><text class="t" y="2.1">345</text></g>
<g id="n228" class="L" transform="translate(567,154)"><use href="#r3"/><text class="t" y="2.1">228</text></g>
<g id="n310" class="L" transform="translate(575,167)"><use href="#r3"/><text class="t" y="2.1">310</text></g>
<g id="n383" class="L" transform="translate(592,164)"><use href="#r3"/><text class="t" y="2.1">383</text></g>
<g id="n13" class="L" transform="translate(677,146)"><use href="#r2"/><text class="t" y="2.1">13</text></g>
<g id="n8" class="L" transform="translate(683,168)"><use href="#r1"/><text class="t" y="2.1">8</text></g>
<g id="n472" class="L" transform="translate(589,179)"><use href="#r3"/><text class="t" y="2.1">472</text></g>
<g id="n105" class="L" transform="translate(669,177)"><use href="#r3"/><text class="t" y="2.1">105</text></g>
<g id="n272" class="L" transform="translate(696,181)"><use href="#r3"/><text class="t" y="2.1">272</text></g>
<g id="n241" class="L" transform="translate(653,191)"><use href="#r3"/><text class="t" y="2.1">241</text></g>
<g id="n159" class="L" transform="translate(638,206)"><use href="#r3"/><text class="t" y="2.1">159</text></g>
<g id="n344" class="L" transform="translate(698,209)"><use href="#r3"/><text class="t" y="2.1">344</text></g>
<g id="n245" class="L" transform="translate(707,222)"><use href="#r3"/><text class="t" y="2.1">245</text></g>
<g id="n128" class="L" transform="translate(687,232)"><use href="#r3"/><text class="t" y="2.1">128</text></g>
<g id="n349" class="L" transform="translate(697,243)"><use href="#r3"/><text class="t" y="2.1">349</text></g>
<g id="n281" class="L" transform="translate(664,248)"><use href="#r3"/><text class="t" y="2.1">281</text></g>
<g id="n255" class="L" transform="translate(682,249)"><use href="#r3"/><text class="t" y="2.1">255</text></g>
<g id="n119" class="L" transform="translate(577,227)"><use href="#r3"/><text class="t" y="2.1">119</text></g>
<g id="n175" class="L" transform="translate(600,227)"><use href="#r3"/><text class="t" y="2.1">175</text></g>
<g id="n163" class="L" transform="translate(615,238)"><use href="#r3"/><text class="t" y="2.1">163</text></g>
<g id="n394" class="L" transform="translate(555,254)"><use href="#r3"/><text class="t" y="2.1">394</text></g>
<g id="n117" class="L" transform="translate(627,254)"><use href="#r3"/><text class="t" y="2.1">117</text></g>
<g id="n414" class="L" transform="translate(612,262)"><use href="#r3"/><text class="t" y="2.1">414</text></g>
<g id="n238" class="L" transform="translate(630,275)"><use href="#r3"/><text class="t" y="2.1">238</text></g>
<g id="n104" class="L" transform="translate(601,280)"><use href="#r3"/><text class="t" y="2.1">104</text></g>
<g id="n440" class="L" transform="translate(615,284)"><use href="#r3"/><text class="t" y="2.1">440</text></g>
<g id="n154" class="L" transform="translate(686,292)"><use href="#r3"/><text class="t" y="2.1">154</text></g>
<g id="n196" class="L" transform="translate(704,302)"><use href="#r3"/><text class="t" y="2.1">196</text></g>
<g id="n278" class="L" transform="translate(673,306)"><use href="#r3"/><text class="t" y="2.1">278</text></g>
<g id="n118" class="L" transform="translate(658,320)"><use href="#r3"/><text class="t" y="2.1">118</text></g>
<g id="n120" class="L" transform="translate(603,308)"><use href="#r3"/><text class="t" y="2.1">120</text></g>
<g id="n41" class="L" transform="translate(545,316)"><use href="#r2"/><text class="t" y="2.1">41</text></g>
<g id="n126" class="L" transform="translate(578,326)"><use href="#r3"/><text class="t" y="2.1">126</text></g>
<g id="n95" class="L" transform="translate(616,332)"><use href="#r2"/><text class="t" y="2.1">95</text></g>
<g id="n149" class="L" transform="translate(402,173)"><use href="#r3"/><text class="t" y="2.1">149</text></g>
<g id="n172" class="L" transform="translate(410,182)"><use href="#r3"/><text class="t" y="2.1">172</text></g>
<g id="n87" class="L" transform="translate(447,171)"><use href="#r2"/><text class="t" y="2.1">87</text></g>
<g id="n318" class="L" transform="translate(510,175)"><use href="#r3"/><text class="t" y="2.1">318</text></g>
<g id="n77" class="L" transform="translate(385,189)"><use href="#r2"/><text class="t" y="2.1">77</text></g>
<g id="n422" class="L" transform="translate(392,197)"><use href="#r3"/><text class="t" y="2.1">422</text></g>
<g id="n309" class="L" transform="translate(451,192)"><use href="#r3"/><text class="t" y="2.1">309</text></g>
<g id="n252" class="L" transform="translate(466,192)"><use href="#r3"/><text class="t" y="2.1">252</text></g>
<g id="n455" class="L" transform="translate(515,201)"><use href="#r3"/><text class="t" y="2.1">455</text></g>
<g id="n211" class="L" transform="translate(473,202)"><use href="#r3"/><text class="t" y="2.1">211</text></g>
<g id="n177" class="L" transform="translate(386,208)"><use href="#r3"/><text class="t" y="2.1">177</text></g>
<g id="n266" class="L" transform="translate(458,208)"><use href="#r3"/><text class="t" y="2.1">266</text></g>
<g id="n232" class="L" transform="translate(376,221)"><use href="#r3"/><text class="t" y="2.1">232</text></g>
<g id="n429" class="L" transform="translate(447,221)"><use href="#r3"/><text class="t" y="2.1">429</text></g>
<g id="n222" class="L" transform="translate(464,222)"><use href="#r3"/><text class="t" y="2.1">222</text></g>
<g id="n134" class="L" transform="translate(384,231)"><use href="#r3"/><text class="t" y="2.1">134</text></g>
<g id="n359" class="L" transform="translate(402,230)"><use href="#r3"/><text class="t" y="2.1">359</text></g>
<g id="n35b" class="L" transform="translate(443,234)"><use href="#r2"/><text class="t" y="2.1">35</text></g>
<g id="n384" class="L" transform="translate(353,254)"><use href="#r3"/><text class="t" y="2.1">384</text></g>
<g id="n397" class="L" transform="translate(400,246)"><use href="#r3"/><text class="t" y="2.1">397</text></g>
<g id="n445" class="L" transform="translate(416,258)"><use href="#r3"/><text class="t" y="2.1">445</text></g>
<g id="n452" class="L" transform="translate(499,262)"><use href="#r3"/><text class="t" y="2.1">452</text></g>
<g id="n91" class="L" transform="translate(435,265)"><use href="#r2"/><text class="t" y="2.1">91</text></g>
<g id="n269" class="L" transform="translate(462,275)"><use href="#r3"/><text class="t" y="2.1">269</text></g>
<g id="n409" class="L" transform="translate(410,281)"><use href="#r3"/><text class="t" y="2.1">409</text></g>
<g id="n142" class="L" transform="translate(370,280)"><use href="#r3"/><text class="t" y="2.1">142</text></g>
<g id="n100" class="L" transform="translate(482,279)"><use href="#r3"/><text class="t" y="2.1">100</text></g>
<g id="n189" class="L" transform="translate(431,285)"><use href="#r3"/><text class="t" y="2.1">189</text></g>
<g id="n221" class="L" transform="translate(357,302)"><use href="#r3"/><text class="t" y="2.1">221</text></g>
<g id="n279" class="L" transform="translate(420,305)"><use href="#r3"/><text class="t" y="2.1">279</text></g>
<g id="n432" class="L" transform="translate(466,311)"><use href="#r3"/><text class="t" y="2.1">432</text></g>
<g id="n101" class="L" transform="translate(438,317)"><use href="#r3"/><text class="t" y="2.1">101</text></g>
<g id="n284" class="L" transform="translate(462,327)"><use href="#r3"/><text class="t" y="2.1">284</text></g>
<g id="n294" class="L" transform="translate(507,322)"><use href="#r3"/><text class="t" y="2.1">294</text></g>
<g id="n113" class="L" transform="translate(367,332)"><use href="#r3"/><text class="t" y="2.1">113</text></g>
<g id="n191" class="L" transform="translate(252,182)"><use href="#r3"/><text class="t" y="2.1">191</text></g>
<g id="n180" class="L" transform="translate(251,210)"><use href="#r3"/><text class="t" y="2.1">180</text></g>
<g id="n94" class="L" transform="translate(333,171)"><use href="#r2"/><text class="t" y="2.1">94</text></g>
<g id="n388" class="L" transform="translate(292,202)"><use href="#r3"/><text class="t" y="2.1">388</text></g>
<g id="n158" class="L" transform="translate(312,198)"><use href="#r3"/><text class="t" y="2.1">158</text></g>
<g id="n69" class="L" transform="translate(311,213)"><use href="#r2"/><text class="t" y="2.1">69</text></g>
<g id="n311" class="L" transform="translate(323,227)"><use href="#r3"/><text class="t" y="2.1">311</text></g>
<g id="n122" class="L" transform="translate(353,222)"><use href="#r3"/><text class="t" y="2.1">122</text></g>
<g id="n338" class="L" transform="translate(281,223)"><use href="#r3"/><text class="t" y="2.1">338</text></g>
<g id="n201" class="L" transform="translate(288,241)"><use href="#r3"/><text class="t" y="2.1">201</text></g>
<g id="n292" class="L" transform="translate(188,244)"><use href="#r3"/><text class="t" y="2.1">292</text></g>
<g id="n353" class="L" transform="translate(260,245)"><use href="#r3"/><text class="t" y="2.1">353</text></g>
<g id="n155" class="L" transform="translate(205,261)"><use href="#r3"/><text class="t" y="2.1">155</text></g>
<g id="n300" class="L" transform="translate(244,285)"><use href="#r3"/><text class="t" y="2.1">300</text></g>
<g id="n143" class="L" transform="translate(193,303)"><use href="#r3"/><text class="t" y="2.1">143</text></g>
<g id="n454" class="L" transform="translate(186,333)"><use href="#r3"/><text class="t" y="2.1">454</text></g>
<g id="n356" class="L" transform="translate(128,338)"><use href="#r3"/><text class="t" y="2.1">356</text></g>
<g id="n319" class="L" transform="translate(62,348)"><use href="#r3"/><text class="t" y="2.1">319</text></g>
<g id="n435" class="L" transform="translate(88,344)"><use href="#r3"/><text class="t" y="2.1">435</text></g>
<g id="n391" class="L" transform="translate(47,358)"><use href="#r3"/><text class="t" y="2.1">391</text></g>
<g id="n216" class="L" transform="translate(118,357)"><use href="#r3"/><text class="t" y="2.1">216</text></g>
<g id="n277" class="L" transform="translate(36,373)"><use href="#r3"/><text class="t" y="2.1">277</text></g>
<g id="n260" class="L" transform="translate(124,378)"><use href="#r3"/><text class="t" y="2.1">260</text></g>
<g id="n396" class="L" transform="translate(161,383)"><use href="#r3"/><text class="t" y="2.1">396</text></g>
<g id="n257" class="L" transform="translate(136,395)"><use href="#r3"/><text class="t" y="2.1">257</text></g>
<g id="n352" class="L" transform="translate(43,399)"><use href="#r3"/><text class="t" y="2.1">352</text></g>
<g id="n456" class="L" transform="translate(61,407)"><use href="#r3"/><text class="t" y="2.1">456</text></g>
<g id="n26" class="L" transform="translate(81,410)"><use href="#r2"/><text class="t" y="2.1">26</text></g>
<g id="n90" class="L" transform="translate(178,402)"><use href="#r2"/><text class="t" y="2.1">90</text></g>
<g id="n31" class="L" transform="translate(245,337)"><use href="#r2"/><text class="t" y="2.1">31</text></g>
<g id="n30" class="L" transform="translate(252,356)"><use href="#r2"/><text class="t" y="2.1">30</text></g>
<g id="n25" class="L" transform="translate(247,374)"><use href="#r2"/><text class="t" y="2.1">25</text></g>
<g id="n115" class="L" transform="translate(201,353)"><use href="#r3"/><text class="t" y="2.1">115</text></g>
<g id="n283" class="L" transform="translate(220,360)"><use href="#r3"/><text class="t" y="2.1">283</text></g>
<g id="n412" class="L" transform="translate(292,408)"><use href="#r3"/><text class="t" y="2.1">412</text></g>
<g id="n229" class="L" transform="translate(315,418)"><use href="#r3"/><text class="t" y="2.1">229</text></g>
<g id="n417" class="L" transform="translate(318,439)"><use href="#r3"/><text class="t" y="2.1">417</text></g>
<g id="n42" class="L" transform="translate(289,441)"><use href="#r2"/><text class="t" y="2.1">42</text></g>
<g id="n36" class="L" transform="translate(319,454)"><use href="#r2"/><text class="t" y="2.1">36</text></g>
<g id="n434" class="L" transform="translate(270,458)"><use href="#r3"/><text class="t" y="2.1">434</text></g>
<g id="n111" class="L" transform="translate(352,382)"><use href="#r3"/><text class="t" y="2.1">111</text></g>
<g id="n93" class="L" transform="translate(343,393)"><use href="#r2"/><text class="t" y="2.1">93</text></g>
<g id="n103" class="L" transform="translate(335,406)"><use href="#r3"/><text class="t" y="2.1">103</text></g>
<g id="n102" class="L" transform="translate(344,470)"><use href="#r3"/><text class="t" y="2.1">102</text></g>
<g id="n436" class="L" transform="translate(336,491)"><use href="#r3"/><text class="t" y="2.1">436</text></g>
<g id="n165" class="L" transform="translate(373,344)"><use href="#r3"/><text class="t" y="2.1">165</text></g>
<g id="n58" class="L" transform="translate(393,337)"><use href="#r2"/><text class="t" y="2.1">58</text></g>
<g id="n474" class="L" transform="translate(405,343)"><use href="#r3"/><text class="t" y="2.1">474</text></g>
<g id="n413" class="L" transform="translate(432,338)"><use href="#r3"/><text class="t" y="2.1">413</text></g>
<g id="n374" class="L" transform="translate(449,347)"><use href="#r3"/><text class="t" y="2.1">374</text></g>
<g id="n431" class="L" transform="translate(420,350)"><use href="#r3"/><text class="t" y="2.1">431</text></g>
<g id="n301" class="L" transform="translate(365,370)"><use href="#r3"/><text class="t" y="2.1">301</text></g>
<g id="n297" class="L" transform="translate(383,383)"><use href="#r3"/><text class="t" y="2.1">297</text></g>
<g id="n27" class="L" transform="translate(404,392)"><use href="#r2"/><text class="t" y="2.1">27</text></g>
<g id="n449" class="L" transform="translate(364,398)"><use href="#r3"/><text class="t" y="2.1">449</text></g>
<g id="n254" class="L" transform="translate(383,399)"><use href="#r3"/><text class="t" y="2.1">254</text></g>
<g id="n146" class="L" transform="translate(489,375)"><use href="#r3"/><text class="t" y="2.1">146</text></g>
<g id="n60" class="L" transform="translate(483,388)"><use href="#r2"/><text class="t" y="2.1">60</text></g>
<g id="n385" class="L" transform="translate(503,397)"><use href="#r3"/><text class="t" y="2.1">385</text></g>
<g id="n392" class="L" transform="translate(527,403)"><use href="#r3"/><text class="t" y="2.1">392</text></g>
<g id="n271" class="L" transform="translate(497,412)"><use href="#r3"/><text class="t" y="2.1">271</text></g>
<g id="n334" class="L" transform="translate(504,434)"><use href="#r3"/><text class="t" y="2.1">334</text></g>
<g id="n293" class="L" transform="translate(371,443)"><use href="#r3"/><text class="t" y="2.1">293</text></g>
<g id="n323" class="L" transform="translate(447,442)"><use href="#r3"/><text class="t" y="2.1">323</text></g>
<g id="n471" class="L" transform="translate(489,448)"><use href="#r3"/><text class="t" y="2.1">471</text></g>
<g id="n150" class="L" transform="translate(405,454)"><use href="#r3"/><text class="t" y="2.1">150</text></g>
<g id="n61" class="L" transform="translate(429,454)"><use href="#r2"/><text class="t" y="2.1">61</text></g>
<g id="n459" class="L" transform="translate(360,468)"><use href="#r3"/><text class="t" y="2.1">459</text></g>
<g id="n114" class="L" transform="translate(388,468)"><use href="#r3"/><text class="t" y="2.1">114</text></g>
<g id="n303" class="L" transform="translate(478,463)"><use href="#r3"/><text class="t" y="2.1">303</text></g>
<g id="n124" class="L" transform="translate(447,472)"><use href="#r3"/><text class="t" y="2.1">124</text></g>
<g id="n411" class="L" transform="translate(400,480)"><use href="#r3"/><text class="t" y="2.1">411</text></g>
<g id="n355" class="L" transform="translate(429,478)"><use href="#r3"/><text class="t" y="2.1">355</text></g>
<g id="n398" class="L" transform="translate(468,482)"><use href="#r3"/><text class="t" y="2.1">398</text></g>
<g id="n157" class="L" transform="translate(411,493)"><use href="#r3"/><text class="t" y="2.1">157</text></g>
<g id="n312" class="L" transform="translate(634,347)"><use href="#r3"/><text class="t" y="2.1">312</text></g>
<g id="n243" class="L" transform="translate(565,351)"><use href="#r3"/><text class="t" y="2.1">243</text></g>
<g id="n249" class="L" transform="translate(614,379)"><use href="#r3"/><text class="t" y="2.1">249</text></g>
<g id="n213" class="L" transform="translate(546,388)"><use href="#r3"/><text class="t" y="2.1">213</text></g>
<g id="n179" class="L" transform="translate(547,404)"><use href="#r3"/><text class="t" y="2.1">179</text></g>
<g id="n34" class="L" transform="translate(603,407)"><use href="#r2"/><text class="t" y="2.1">34</text></g>
<g id="n3" class="L" transform="translate(603,421)"><use href="#r1"/><text class="t" y="2.1">3</text></g>
<g id="n29" class="L" transform="translate(632,427)"><use href="#r2"/><text class="t" y="2.1">29</text></g>
<g id="n351" class="L" transform="translate(629,443)"><use href="#r3"/><text class="t" y="2.1">351</text></g>
<g id="n156" class="L" transform="translate(663,449)"><use href="#r3"/><text class="t" y="2.1">156</text></g>
<g id="n38" class="L" transform="translate(606,456)"><use href="#r2"/><text class="t" y="2.1">38</text></g>
<g id="n98" class="L" transform="translate(646,469)"><use href="#r2"/><text class="t" y="2.1">98</text></g>
</g>
</svg>
